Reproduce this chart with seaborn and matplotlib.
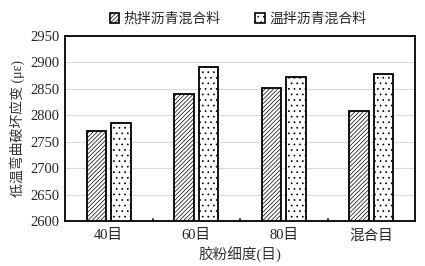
import matplotlib
matplotlib.use("Agg")
import matplotlib.pyplot as plt
import seaborn as sns
import pandas as pd

categories = ["40目", "60目", "80目", "混合目"]
hot_mix = [2771, 2841, 2852, 2809]
warm_mix = [2785, 2892, 2873, 2878]
series_names = ["热拌沥青混合料", "温拌沥青混合料"]
yticks = [2600, 2650, 2700, 2750, 2800, 2850, 2900, 2950]

df = pd.DataFrame({
    "cat": categories * 2,
    "val": hot_mix + warm_mix,
    "series": [series_names[0]] * 4 + [series_names[1]] * 4,
})

sns.set_theme(style="white")
plt.rcParams['font.family'] = ['Liberation Serif', 'Noto Sans CJK SC']
plt.rcParams['hatch.linewidth'] = 0.5
plt.rcParams['hatch.color'] = '#444444'

fig = plt.figure(figsize=(4.25, 2.66), dpi=100)
ax = fig.add_axes([65/425, 1-221/266, 350/425, 185/266])

sns.barplot(data=df, x="cat", y="val", hue="series", ax=ax,
            palette=["white", "white"], width=0.56, gap=0.2,
            edgecolor="black", linewidth=1.3, legend=False, saturation=1)

hatches = ["////////", "..."]
for i, container in enumerate(ax.containers):
    for bar in container:
        bar.set_hatch(hatches[i])
        bar.set_edgecolor("black")

ax.set_ylim(2600, 2950)
ax.set_yticks(yticks)
ax.set_xlim(-0.5, 3.5)
ax.yaxis.grid(True, color="#d9d9d9", linewidth=0.8)
ax.set_axisbelow(True)
for s in ax.spines.values():
    s.set_linewidth(1.3)
    s.set_color("black")
ax.tick_params(axis="y", direction="in", length=3, width=1, labelsize=10.5, pad=4)
ax.tick_params(axis="x", length=0, labelsize=10.5, pad=6)
for xm in [0.5, 1.5, 2.5]:
    ax.plot([xm, xm], [2600, 2604], color="black", lw=1.2, clip_on=False)

ax.set_xlabel("胶粉细度(目)", fontsize=10.5, labelpad=2, color="#333333")
ax.set_ylabel("低温弯曲破坏应变 (με)", fontsize=10, labelpad=4, color="#333333")

from matplotlib.patches import Patch
handles = [Patch(facecolor="white", edgecolor="black", hatch=hatches[0], linewidth=1.2),
           Patch(facecolor="white", edgecolor="black", hatch=hatches[1], linewidth=1.2)]
fig.legend(handles, series_names, loc="upper center", bbox_to_anchor=(0.56, 1.0),
           ncol=2, frameon=False, fontsize=10, handlelength=0.7, handleheight=0.7,
           handletextpad=0.3, columnspacing=2.5)

fig.savefig("out.png", dpi=100)
